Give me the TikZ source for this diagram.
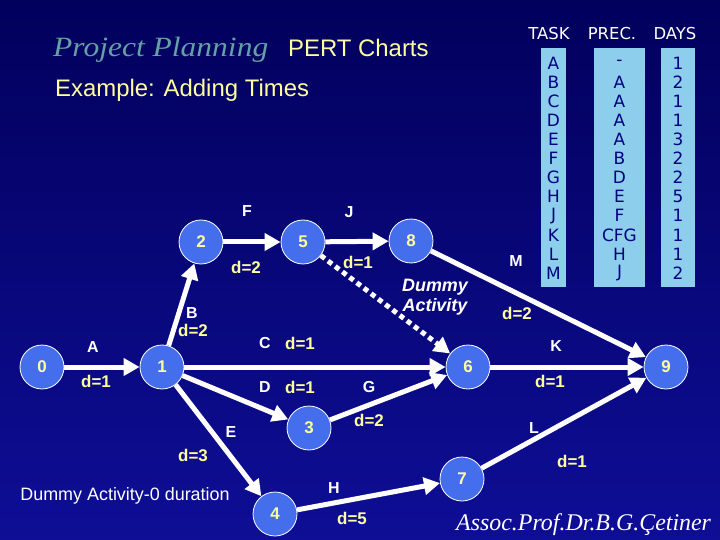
\documentclass[tikz,border=0pt]{standalone}
\usepackage{fontspec}
\setmainfont{Liberation Sans}
\newfontfamily\serifit{Liberation Serif}
\newfontfamily\tabfont{DejaVu Sans}
\usetikzlibrary{arrows.meta}
\definecolor{bgtop}{RGB}{2,0,92}
\definecolor{bgbot}{RGB}{14,14,150}
\definecolor{nodeblue}{RGB}{68,110,235}
\definecolor{paleyel}{RGB}{255,255,160}
\definecolor{sky}{RGB}{140,206,236}
\definecolor{navytxt}{RGB}{0,0,128}
\definecolor{tealtxt}{RGB}{100,160,165}
\begin{document}
\begin{tikzpicture}[x=1bp,y=-1bp,
  ev/.style={circle,draw=white,line width=0.8bp,fill=nodeblue,minimum size=44bp,inner sep=0pt,text=paleyel,font=\fontsize{17}{17}\selectfont\bfseries},
  act/.style={white,line width=5bp,-{Triangle[length=16bp,width=17bp]}},
  dum/.style={act,dash pattern=on 5bp off 4bp},
  lbl/.style={text=white,font=\fontsize{16}{16}\selectfont\bfseries,inner sep=0pt},
  dur/.style={text=paleyel,font=\fontsize{17}{17}\selectfont\bfseries,inner sep=0pt},
  tab/.style={text=navytxt,font=\tabfont\fontsize{17}{17}\selectfont,inner sep=0pt},
  hdr/.style={text=white,font=\tabfont\fontsize{16.5}{16.5}\selectfont,inner sep=0pt,anchor=base},
]
\useasboundingbox (0,0) rectangle (720,540);
\shade[top color=bgtop,bottom color=bgbot] (0,0) rectangle (720,540);

% titles
\node[anchor=base west,inner sep=0pt,text=tealtxt,font=\serifit\itshape\fontsize{28}{28}\selectfont] (title) at (53,57) {\scalebox{1.13}[1]{Project Planning}};
\node[anchor=base west,inner sep=0pt,text=paleyel,font=\fontsize{24}{24}\selectfont] (pert) at (288,57) {PERT Charts};
\node[anchor=base west,inner sep=0pt,text=paleyel,font=\fontsize{24}{24}\selectfont] (example) at (55,97) {Example: Adding Times};

% table
\fill[sky] (541,48) rectangle (566,287);
\fill[sky] (594,48) rectangle (645,287);
\fill[sky] (661,48) rectangle (695,287);
\node[hdr] (htask) at (549,40) {TASK};
\node[hdr] (hprec) at (612,40) {PREC.};
\node[hdr] (hdays) at (675,40) {DAYS};
\foreach \t/\p/\d [count=\i from 0] in {A/-/1,B/A/2,C/A/1,D/A/1,E/A/3,F/B/2,G/D/2,H/E/5,J/F/1,K/CFG/1,L/H/1,M/J/2}{
  \node[tab] (ta\i) at (553.5,63+19.1*\i) {\t};
  \node[tab] (tp\i) at (619.5,63+19.1*\i) {\p};
  \node[tab] (td\i) at (678,63+19.1*\i) {\d};
}

% events
\node[ev] (n0) at (42,367) {0};
\node[ev] (n1) at (162,367) {1};
\node[ev] (n2) at (201,242) {2};
\node[ev] (n5) at (303,242) {5};
\node[ev] (n8) at (411,241) {8};
\node[ev] (n6) at (468,367) {6};
\node[ev] (n9) at (666,367) {9};
\node[ev] (n3) at (309,428) {3};
\node[ev] (n4) at (275,514) {4};
\node[ev] (n7) at (462,479) {7};

% activities
\draw[act] (n0) -- (n1);
\draw[act] (n1) -- (n2);
\draw[act] (n2) -- (n5);
\draw[act] (n5) -- (n8);
\draw[act] (n8) -- (n9);
\draw[dum] (n5) -- (n6);
\draw[act] (n1) -- (n6);
\draw[act] (n1) -- (n3);
\draw[act] (n1) -- (n4);
\draw[act] (n3) -- (n6);
\draw[act] (n4) -- (n7);
\draw[act] (n6) -- (n9);
\draw[act] (n7) -- (n9);

% labels
\node[lbl] (lA) at (93,347) {A};
\node[dur] (dA) at (96,381) {d=1};
\node[lbl] (lB) at (192,313) {B};
\node[dur] (dB) at (193,330) {d=2};
\node[lbl] (lF) at (247,211) {F};
\node[dur] (dF) at (246,267) {d=2};
\node[lbl] (lJ) at (349,212) {J};
\node[dur] (dJ) at (358,262) {d=1};
\node[lbl] (lC) at (265,343) {C};
\node[dur] (dC) at (300,343) {d=1};
\node[lbl] (lD) at (265,387) {D};
\node[dur] (dD) at (300,387) {d=1};
\node[lbl] (lG) at (369,387) {G};
\node[dur] (dG) at (369,420) {d=2};
\node[lbl] (lE) at (231,432) {E};
\node[dur] (dE) at (193,455) {d=3};
\node[lbl] (lH) at (334,488) {H};
\node[dur] (dH) at (352,518) {d=5};
\node[lbl] (lK) at (556,346) {K};
\node[dur] (dK) at (550,381) {d=1};
\node[lbl] (lL) at (534,428) {L};
\node[dur] (dL) at (572,461) {d=1};
\node[lbl] (lM) at (516,261) {M};
\node[dur] (dM) at (517,313) {d=2};
\node[text=white,font=\fontsize{18}{20}\selectfont\bfseries\itshape,align=center,inner sep=0pt] (dummy) at (435,297) {Dummy\\Activity};
\node[text=white,font=\fontsize{18}{18}\selectfont,inner sep=0pt] (dnote) at (125,496) {Dummy Activity-0 duration};

% signature
\node[anchor=base west,inner sep=0pt,text=white,font=\serifit\itshape\fontsize{24}{24}\selectfont] (sig) at (456,530) {Assoc.Prof.Dr.B.G.Çetiner};
\end{tikzpicture}
\end{document}
